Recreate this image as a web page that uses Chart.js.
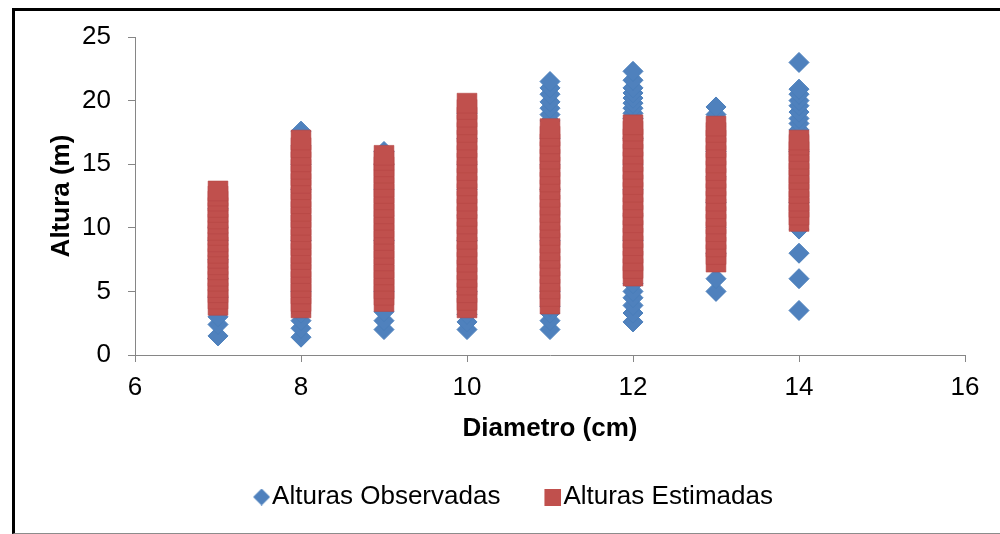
<!DOCTYPE html>
<html>
<head>
<meta charset="utf-8">
<script src="https://cdn.jsdelivr.net/npm/chart.js@4"></script>
<style>
  html,body{margin:0;padding:0;background:#fff;}
  #wrap{position:relative;width:1000px;height:534px;overflow:hidden;}
  #frame{position:absolute;left:12px;top:8px;width:1000px;height:522px;
         border-left:3px solid #000;border-top:3px solid #000;border-bottom:1px solid #8c8c8c;
         pointer-events:none;}
</style>
</head>
<body>
<div id="wrap">
  <canvas id="chart" width="1000" height="534"></canvas>
  <div id="frame"></div>
</div>
<script>
/* ---------- Data ---------- */
const diametros = [7, 8, 9, 10, 11, 12, 13, 14];
const xTicks = [6, 8, 10, 12, 14, 16];
const yTicks = [0, 5, 10, 15, 20, 25];

// alturas observadas (m) por diametro
const obs7  = [1.5, 2.4, 3.0, 4.5, 6.0, 7.5, 9.0, 10.0, 11.5, 12.5];
const obs8  = [1.4, 2.1, 2.7, 3.3, 5.0, 7.0, 9.0, 11.0, 13.0, 15.0, 16.5, 17.6];
const obs9  = [2.0, 2.7, 3.4, 5.0, 7.0, 9.0, 11.0, 13.0, 15.0, 16.0];
const obs10 = [2.0, 2.6, 3.2, 5.0, 7.0, 9.0, 11.0, 13.0, 15.0, 17.0, 19.0];
const obs11 = [2.0, 2.7, 3.3, 3.8, 5.0, 7.0, 9.0, 11.0, 13.0, 15.0, 17.0, 18.4, 18.9, 19.4, 19.9, 20.5, 21.0, 21.5];
const obs12 = [2.6, 3.3, 3.9, 4.5, 5.0, 5.6, 7.0, 9.0, 11.0, 13.0, 15.0, 17.0, 18.6, 19.0, 19.4, 19.8, 20.2, 20.6, 21.0, 21.6, 22.3];
const obs13 = [5.0, 6.0, 8.0, 10.0, 12.0, 14.0, 16.0, 18.0, 18.9, 19.5];
const obs14 = [3.5, 6.0, 8.0, 9.9, 12.0, 14.0, 16.0, 17.3, 17.7, 18.2, 18.6, 19.1, 19.6, 20.0, 20.5, 20.9, 23.0];

// alturas estimadas (m) por diametro
const est7  = [3.9, 4.4, 4.9, 5.3, 5.8, 6.2, 6.7, 7.1, 7.6, 8.0, 8.5, 8.9, 9.4, 9.8, 10.3, 10.7, 11.2, 11.6, 12.1, 12.5, 12.9];
const est8  = [3.7, 4.2, 4.8, 5.3, 5.8, 6.4, 6.9, 7.5, 8.0, 8.6, 9.1, 9.7, 10.2, 10.8, 11.3, 11.9, 12.4, 13.0, 13.5, 14.1, 14.6, 15.2, 15.7, 16.3, 16.9];
const est9  = [4.2, 4.7, 5.2, 5.8, 6.3, 6.8, 7.4, 7.9, 8.4, 9.0, 9.5, 10.0, 10.6, 11.1, 11.6, 12.2, 12.7, 13.2, 13.8, 14.3, 14.8, 15.3, 15.7];
const est10 = [3.7, 4.3, 4.9, 5.5, 6.1, 6.7, 7.3, 7.9, 8.5, 9.1, 9.7, 10.3, 10.9, 11.5, 12.1, 12.7, 13.3, 13.9, 14.5, 15.1, 15.7, 16.3, 16.9, 17.5, 18.1, 18.7, 19.3, 19.8];
const est11 = [4.0, 4.6, 5.2, 5.8, 6.4, 7.0, 7.6, 8.2, 8.8, 9.4, 10.0, 10.6, 11.2, 11.8, 12.4, 13.0, 13.6, 14.2, 14.8, 15.4, 16.0, 16.6, 17.2, 17.8];
const est12 = [6.2, 6.8, 7.4, 8.0, 8.6, 9.2, 9.8, 10.4, 11.0, 11.6, 12.2, 12.8, 13.4, 14.0, 14.6, 15.2, 15.8, 16.4, 17.0, 17.6, 18.1];
const est13 = [7.3, 7.9, 8.5, 9.1, 9.7, 10.3, 10.9, 11.5, 12.1, 12.7, 13.3, 13.9, 14.5, 15.1, 15.7, 16.3, 16.9, 17.5, 18.0];
const est14 = [10.5, 11.0, 11.6, 12.1, 12.7, 13.2, 13.8, 14.3, 14.9, 15.4, 16.0, 16.5, 16.9];

const observadas = [obs7, obs8, obs9, obs10, obs11, obs12, obs13, obs14];
const estimadas  = [est7, est8, est9, est10, est11, est12, est13, est14];

/* ---------- Helpers ---------- */
const BLUE = '#4F81BD', RED = '#C0504D', AXIS = '#868686';
const FONT = "'Liberation Sans', Arial, sans-serif";
const FS = 26;

const toPoints = (cols)=> diametros.flatMap((d, i)=> cols[i].map(h => ({x:d, y:h})));

// legend icon: 26px wide canvas, shape drawn at its right side so it sits next to the text
function legendIcon(kind, color){
  const c = document.createElement('canvas');
  c.width = 26; c.height = 17;
  const g = c.getContext('2d');
  g.fillStyle = color;
  if (kind === 'diamond') {
    g.beginPath();
    g.moveTo(17.5, 0); g.lineTo(26, 8.5); g.lineTo(17.5, 17); g.lineTo(9, 8.5);
    g.closePath(); g.fill();
  } else {
    g.fillRect(9, 0, 17, 17);
  }
  return c;
}
const ICONS = [legendIcon('diamond', BLUE), legendIcon('square', RED)];

/* ---------- Chart ---------- */
new Chart(document.getElementById('chart'), {
  type: 'scatter',
  data: {
    datasets: [
      { label:'Alturas Observadas', data: toPoints(observadas), order: 1,
        pointStyle:'rectRot', pointRadius:10, pointHoverRadius:10,
        backgroundColor: BLUE, borderColor:'#4A7EBB', borderWidth:1 },
      { label:'Alturas Estimadas', data: toPoints(estimadas), order: 0,
        pointStyle:'rect', pointRadius:14, pointHoverRadius:14,
        backgroundColor: RED, borderColor:'rgba(180,70,68,0.55)', borderWidth:1 }
    ]
  },
  options: {
    responsive: false,
    animation: false,
    layout: { padding: { left:63, top:37, right:35, bottom:14 } },
    plugins: {
      tooltip: { enabled:false },
      legend: {
        position: 'bottom',
        labels: {
          usePointStyle: true,
          boxWidth: 4, boxHeight: 17,
          padding: 46,
          color: '#000',
          font: { family: FONT, size: FS },
          sort: (a, b)=> a.datasetIndex - b.datasetIndex,
          generateLabels: (chart)=> {
            const items = Chart.defaults.plugins.legend.labels.generateLabels(chart);
            items.forEach(it => { it.pointStyle = ICONS[it.datasetIndex]; });
            return items;
          }
        }
      }
    },
    scales: {
      x: {
        type: 'linear', min: 6, max: 16,
        afterBuildTicks: (s)=> { s.ticks = xTicks.map(v => ({value:v})); },
        afterFit: (s)=> { s.height = 83; },
        grid: { drawOnChartArea:false, drawTicks:true, tickLength:7, color:AXIS },
        border: { color: AXIS },
        ticks: { color:'#000', padding:10, font:{ family:FONT, size:FS } },
        title: { display:true, text:'Diametro (cm)', color:'#000',
                 padding:{ top:0, bottom:-6 }, font:{ family:FONT, size:FS, weight:'bold' } }
      },
      y: {
        type: 'linear', min: 0, max: 25,
        afterBuildTicks: (s)=> { s.ticks = yTicks.map(v => ({value:v})); },
        afterFit: (s)=> { s.width = 72; },
        grid: { drawOnChartArea:false, drawTicks:true, tickLength:7, color:AXIS },
        border: { color: AXIS },
        ticks: { color:'#000', padding:17, font:{ family:FONT, size:FS } },
        title: { display:true, text:'Altura (m)', color:'#000',
                 padding:{ top:-17, bottom:0 }, font:{ family:FONT, size:FS, weight:'bold' } }
      }
    }
  }
});
</script>
</body>
</html>
